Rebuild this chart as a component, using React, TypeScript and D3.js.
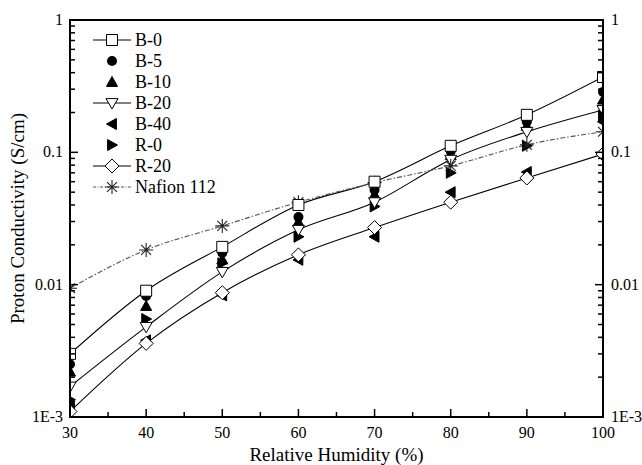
import React from 'react';
import * as d3 from 'd3';

const humidity = [30, 40, 50, 60, 70, 80, 90, 100];

const b0 = [0.003, 0.009, 0.0193, 0.04, 0.06, 0.112, 0.192, 0.371];
const b5 = [0.0025, 0.0082, 0.0174, 0.0325, 0.052, 0.102, 0.17, 0.286];
const b10 = [0.0022, 0.0069, 0.0155, 0.0298, 0.048, 0.095, 0.158, 0.25];
const b20 = [0.0017, 0.0048, 0.0125, 0.026, 0.042, 0.088, 0.143, 0.209];
const b40 = [0.0012, 0.0038, 0.0083, 0.0154, 0.023, 0.05, 0.071, 0.17];
const r0 = [0.00135, 0.0055, 0.0145, 0.023, 0.039, 0.07, 0.112, 0.19];
const r20 = [0.0011, 0.0036, 0.0087, 0.0168, 0.027, 0.042, 0.064, 0.097];
const nafion = [0.0094, 0.0183, 0.0278, 0.042, 0.059, 0.079, 0.114, 0.143];

const xTicks = [30, 40, 50, 60, 70, 80, 90, 100];
const yTicks = [0.001, 0.01, 0.1, 1];
const yTickLabels = ['1E-3', '0.01', '0.1', '1'];

const series = [
  { name: 'B-0', values: b0, marker: 'square', line: 'solid' },
  { name: 'B-5', values: b5, marker: 'circle', line: 'none' },
  { name: 'B-10', values: b10, marker: 'triUp', line: 'none' },
  { name: 'B-20', values: b20, marker: 'triDown', line: 'solid' },
  { name: 'B-40', values: b40, marker: 'triLeft', line: 'none' },
  { name: 'R-0', values: r0, marker: 'triRight', line: 'none' },
  { name: 'R-20', values: r20, marker: 'diamond', line: 'solid' },
  { name: 'Nafion 112', values: nafion, marker: 'star', line: 'dashdot' },
];

// draw order: filled ones first, open ones on top
const drawOrder = ['B-40', 'R-0', 'B-10', 'B-5', 'R-20', 'B-20', 'Nafion 112', 'B-0'];

const FONT = '"Liberation Serif"';

const W = 642;
const H = 465;
const margin = { top: 20, right: 39, bottom: 48, left: 70 };
const innerW = W - margin.left - margin.right;
const innerH = H - margin.top - margin.bottom;
const bottom = margin.top + innerH;
const right = margin.left + innerW;

const x = d3.scaleLinear().domain([30, 100]).range([margin.left, right]);
const y = d3.scaleLog().domain([0.001, 1]).range([bottom, margin.top]);

const line = d3.line<number>()
  .x((_, i) => x(humidity[i]))
  .y(d => y(d))
  .curve(d3.curveMonotoneX);

const minorY: number[] = [];
[0.001, 0.01, 0.1].forEach(dec => {
  for (let k = 2; k <= 9; k++) minorY.push(dec * k);
});

const markerPath = (type: string) => {
  const s = 5.5;
  switch (type) {
    case 'square':
      return `M${-s},${-s}H${s}V${s}H${-s}Z`;
    case 'triUp':
      return `M0,${-s}L${s},${s * 0.8}L${-s},${s * 0.8}Z`;
    case 'triDown':
      return `M${-s - 0.5},${-s * 0.8}L${s + 0.5},${-s * 0.8}L0,${s + 0.5}Z`;
    case 'triLeft':
      return `M${-s},0L${s * 0.8},${-s}L${s * 0.8},${s}Z`;
    case 'triRight':
      return `M${s},0L${-s * 0.8},${-s}L${-s * 0.8},${s}Z`;
    case 'diamond':
      return `M0,${-s - 1.5}L${s + 1.5},0L0,${s + 1.5}L${-s - 1.5},0Z`;
    case 'star': {
      const r = 7;
      const d = r * Math.SQRT1_2;
      return `M0,${-r}V${r}M${-r},0H${r}M${-d},${-d}L${d},${d}M${-d},${d}L${d},${-d}`;
    }
    default:
      return '';
  }
};

const Marker = ({ type, cx, cy }: { type: string; cx: number; cy: number }) => {
  if (type === 'circle') return <circle cx={cx} cy={cy} r={5} fill="#000" />;
  const filled = type === 'triUp' || type === 'triLeft' || type === 'triRight';
  return (
    <path
      d={markerPath(type)}
      transform={`translate(${cx},${cy})`}
      fill={type === 'star' ? 'none' : filled ? '#000' : '#fff'}
      stroke={type === 'star' ? '#222' : '#000'}
      strokeWidth={type === 'star' ? 1.1 : 1}
    />
  );
};

const txt = (size: number) => ({ fontFamily: FONT, fontSize: size });

export default function App() {
  return (
    <svg width={W} height={H} style={{ position: 'absolute', left: 0, top: 0, background: '#fff' }}>
      <defs>
        <clipPath id="plot-clip">
          <rect x={margin.left} y={margin.top} width={innerW} height={innerH} />
        </clipPath>
      </defs>

      <g clipPath="url(#plot-clip)">
        {series.filter(s => s.line !== 'none').map(s => (
          <path
            key={s.name}
            d={line(s.values) || ''}
            fill="none"
            stroke={s.line === 'dashdot' ? '#555' : '#000'}
            strokeWidth={1.1}
            strokeDasharray={s.line === 'dashdot' ? '5,2,1.5,2' : undefined}
          />
        ))}
        {drawOrder.map(name => {
          const s = series.find(d => d.name === name)!;
          return s.values.map((v, i) => (
            <Marker key={`${name}-${i}`} type={s.marker} cx={x(humidity[i])} cy={y(v)} />
          ));
        })}
      </g>

      <rect x={margin.left} y={margin.top} width={innerW} height={innerH} fill="none" stroke="#000" strokeWidth={2} />

      <g stroke="#000" strokeWidth={1.5}>
        {d3.range(30, 101, 5).map(t => (
          <line key={`xt${t}`} x1={x(t)} x2={x(t)} y1={bottom} y2={bottom - (t % 10 === 0 ? 8 : 5)} />
        ))}
        {[margin.left, right].map((x0, side) => {
          const dir = side === 0 ? 1 : -1;
          return (
            <g key={`ys${side}`}>
              {yTicks.map(t => (
                <line key={`M${t}`} x1={x0} x2={x0 + dir * 8} y1={y(t)} y2={y(t)} />
              ))}
              {minorY.map(t => (
                <line key={`m${t}`} x1={x0} x2={x0 + dir * 5} y1={y(t)} y2={y(t)} />
              ))}
            </g>
          );
        })}
      </g>

      {xTicks.map(t => (
        <text key={`xl${t}`} x={x(t)} y={bottom + 21} textAnchor="middle" style={txt(16)}>
          {t}
        </text>
      ))}
      {yTicks.map((t, i) => (
        <g key={`yl${t}`}>
          <text x={margin.left - 7} y={y(t) + 5} textAnchor="end" style={txt(16)}>
            {yTickLabels[i]}
          </text>
          <text x={right + 8} y={y(t) + 5} textAnchor="start" style={txt(16)}>
            {yTickLabels[i]}
          </text>
        </g>
      ))}

      <text x={margin.left + innerW / 2} y={H - 4} textAnchor="middle" style={txt(19)}>
        Relative Humidity (%)
      </text>
      <text
        transform={`translate(24,${margin.top + innerH / 2}) rotate(-90)`}
        textAnchor="middle"
        style={txt(19)}
      >
        Proton Conductivity (S/cm)
      </text>

      {series.map((s, i) => {
        const ly = 40 + i * 21;
        return (
          <g key={`lg${s.name}`}>
            {s.line !== 'none' && (
              <line
                x1={93}
                x2={131}
                y1={ly}
                y2={ly}
                stroke={s.line === 'dashdot' ? '#555' : '#000'}
                strokeWidth={1.1}
                strokeDasharray={s.line === 'dashdot' ? '3,1.5,1,1.5' : undefined}
              />
            )}
            <Marker type={s.marker} cx={112} cy={ly} />
            <text x={135} y={ly + 6} style={txt(18)}>
              {s.name}
            </text>
          </g>
        );
      })}
    </svg>
  );
}
